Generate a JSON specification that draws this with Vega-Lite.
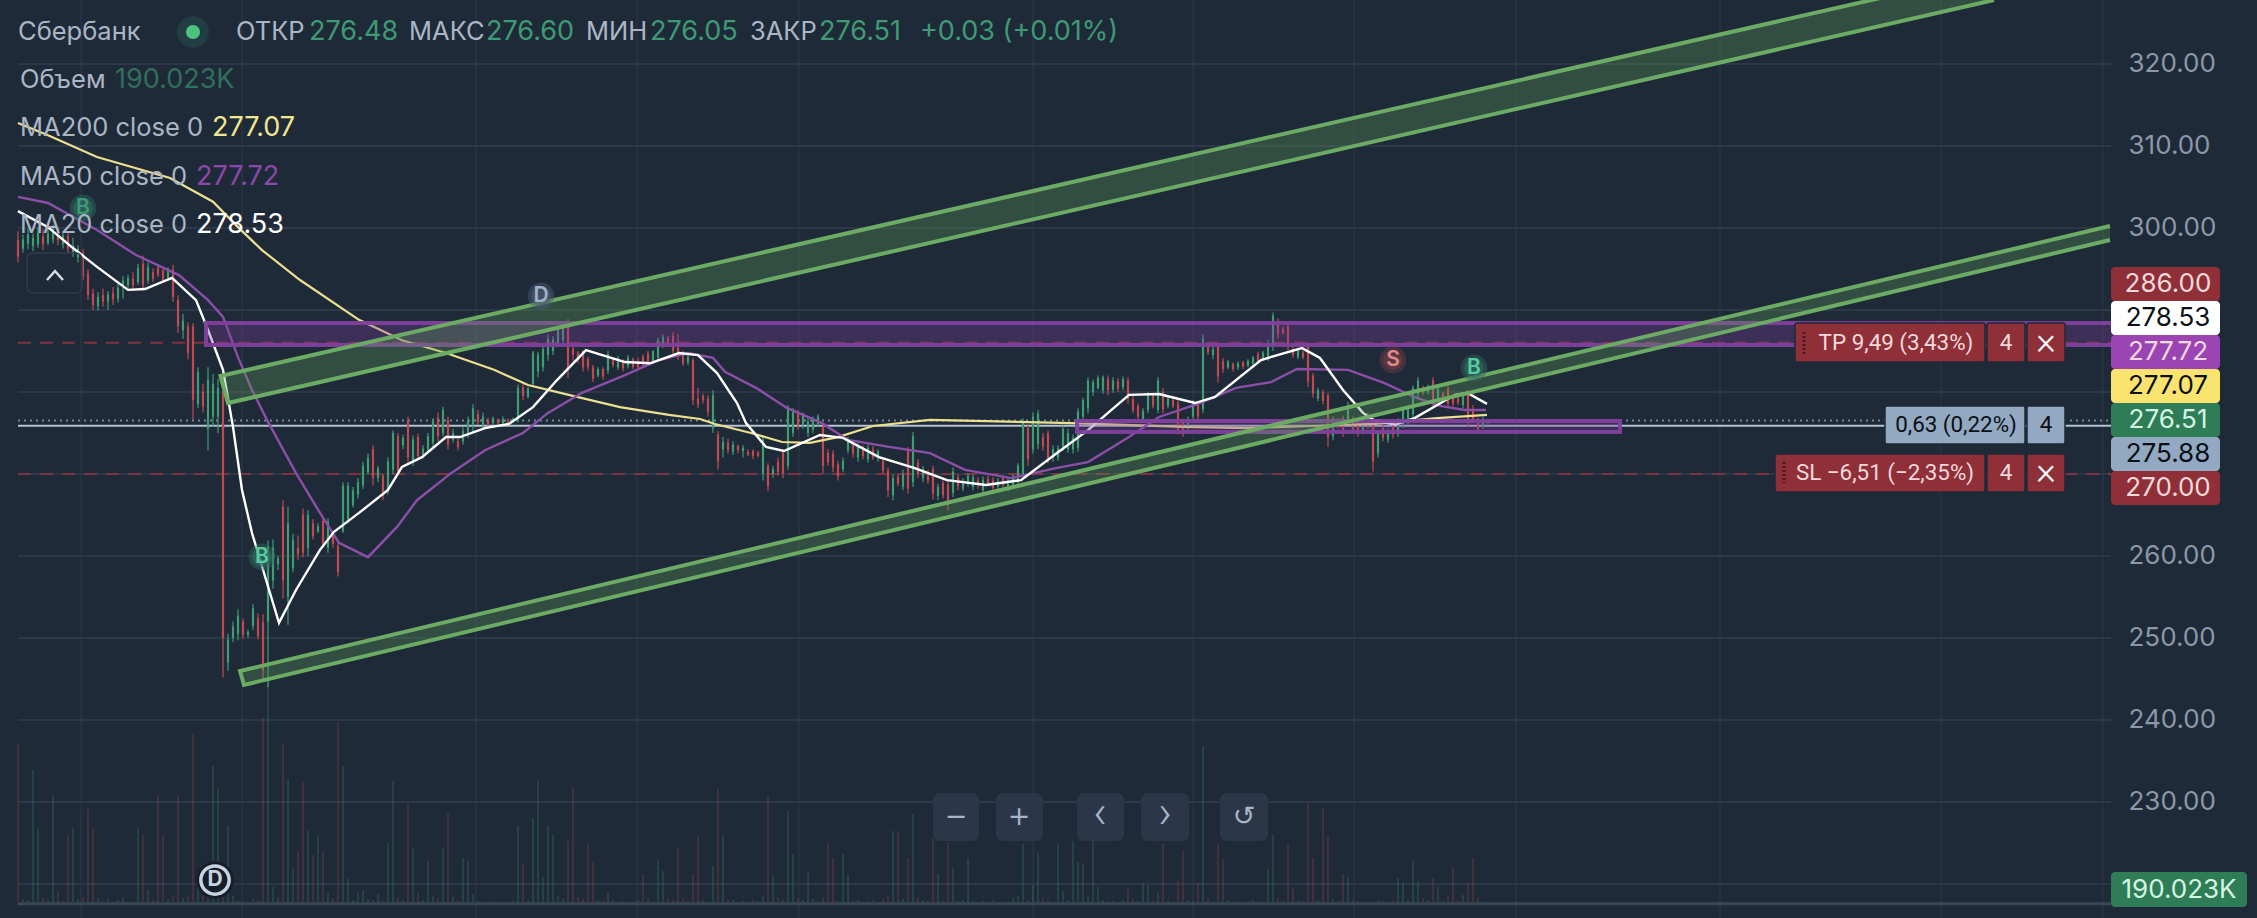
{"$schema":"https://vega.github.io/schema/vega-lite/v6.json","width":2257,"height":918,"padding":0,"autosize":{"type":"none"},"background":"#1f2a38","view":{"stroke":null},
"datasets":{
"candles":[
{"t":18,"h":299.6,"l":295.8,"o":298.5,"c":296.5,"v":16200},{"t":23,"h":299.2,"l":297,"o":297.5,"c":298.6,"v":600},{"t":28,"h":299.9,"l":297.4,"o":298.1,"c":299.2,"v":500},{"t":33,"h":299.3,"l":297.2,"o":297.8,"c":298.8,"v":13500},{"t":38,"h":300.1,"l":297.6,"o":298,"c":299.4,"v":7700},{"t":43,"h":299.8,"l":297.3,"o":299,"c":298,"v":700},{"t":48,"h":299.9,"l":297.9,"o":298.2,"c":299.3,"v":500},{"t":53,"h":300.4,"l":298.1,"o":298.6,"c":299.9,"v":11000},{"t":58,"h":300,"l":297.9,"o":299.5,"c":298.5,"v":1400},{"t":63,"h":299.6,"l":297.5,"o":298,"c":299.1,"v":400},
{"t":68,"h":299.4,"l":296.9,"o":299,"c":297.5,"v":7000},{"t":73,"h":298.8,"l":296.5,"o":296.9,"c":297.8,"v":7700},{"t":78,"h":297.9,"l":295.8,"o":296.4,"c":297.5,"v":600},{"t":83,"h":297.4,"l":293.6,"o":297,"c":294.1,"v":800},{"t":88,"h":295,"l":291.2,"o":294.5,"c":291.8,"v":9600},{"t":93,"h":292.6,"l":290,"o":292,"c":290.6,"v":7700},{"t":98,"h":292.2,"l":289.9,"o":290.5,"c":291.6,"v":700},{"t":103,"h":292.6,"l":290.4,"o":291.8,"c":291,"v":400},{"t":108,"h":292.3,"l":290,"o":291,"c":291.9,"v":600},{"t":113,"h":292.8,"l":290.6,"o":292.1,"c":291.3,"v":300},
{"t":118,"h":293.2,"l":290.9,"o":291.4,"c":292.7,"v":500},{"t":123,"h":294.1,"l":291.4,"o":292.9,"c":293.6,"v":700},{"t":128,"h":294.3,"l":292.5,"o":293,"c":293.9,"v":400},{"t":133,"h":294.6,"l":292.3,"o":293.8,"c":293,"v":300},{"t":138,"h":295.6,"l":293.1,"o":293.4,"c":295.1,"v":7700},{"t":143,"h":296.6,"l":292.5,"o":295.6,"c":293,"v":7000},{"t":148,"h":295.8,"l":293.2,"o":293.6,"c":295.2,"v":1500},{"t":153,"h":295.1,"l":293.4,"o":294.6,"c":293.8,"v":500},{"t":158,"h":295.6,"l":294,"o":295.2,"c":294.3,"v":11000},{"t":163,"h":295,"l":293.3,"o":294.8,"c":293.7,"v":7000},
{"t":168,"h":295.2,"l":293.6,"o":293.9,"c":294.9,"v":600},{"t":173,"h":295.5,"l":291,"o":294.9,"c":291.6,"v":900},{"t":178,"h":291.8,"l":287.2,"o":291.2,"c":288,"v":11000},{"t":183,"h":289.5,"l":286.5,"o":287.5,"c":288.7,"v":700},{"t":188,"h":288.5,"l":284,"o":288,"c":284.8,"v":900},{"t":193,"h":288.4,"l":276.6,"o":288,"c":279,"v":17200},{"t":198,"h":283,"l":278,"o":278.5,"c":282.4,"v":1800},{"t":203,"h":281,"l":277.5,"o":280,"c":278.2,"v":900},{"t":208,"h":283,"l":272.9,"o":275.5,"c":281.5,"v":1200},{"t":213,"h":282.2,"l":275.8,"o":277,"c":281,"v":13900},
{"t":218,"h":281.6,"l":275,"o":277,"c":280.5,"v":11600},{"t":223,"h":280.5,"l":245.2,"o":280,"c":250,"v":1500},{"t":228,"h":250.5,"l":246,"o":247,"c":249.8,"v":7900},{"t":233,"h":252,"l":249.5,"o":250,"c":251.4,"v":900},{"t":238,"h":253.5,"l":249.7,"o":250.5,"c":252.7,"v":500},{"t":243,"h":252.4,"l":249.9,"o":252,"c":250.4,"v":400},{"t":248,"h":251,"l":250,"o":250.4,"c":250.7,"v":300},{"t":253,"h":254.1,"l":251,"o":251.5,"c":253.6,"v":600},{"t":258,"h":253,"l":249.8,"o":252.4,"c":250.2,"v":500},{"t":263,"h":252.9,"l":244.8,"o":252,"c":246,"v":18700},
{"t":268,"h":261.9,"l":244,"o":252,"c":261.2,"v":22500},{"t":273,"h":262,"l":256,"o":257,"c":261,"v":1800},{"t":278,"h":260,"l":258.3,"o":259,"c":259.7,"v":800},{"t":283,"h":266.8,"l":254.8,"o":266,"c":257,"v":16100},{"t":288,"h":266,"l":251.6,"o":255,"c":264,"v":12600},{"t":293,"h":262.7,"l":258,"o":258.5,"c":262,"v":3600},{"t":298,"h":262.5,"l":259.5,"o":261,"c":260.2,"v":5400},{"t":303,"h":265.8,"l":259.8,"o":265,"c":260.4,"v":12400},{"t":308,"h":265.6,"l":260,"o":261,"c":265,"v":7400},{"t":313,"h":264.5,"l":262,"o":264,"c":262.4,"v":5000},
{"t":318,"h":264,"l":262.8,"o":263,"c":263.6,"v":7000},{"t":323,"h":264.7,"l":261,"o":264.3,"c":261.5,"v":5300},{"t":328,"h":264.6,"l":260.4,"o":261,"c":264.2,"v":1200},{"t":333,"h":263,"l":261,"o":262.5,"c":261.5,"v":700},{"t":338,"h":261.7,"l":257.5,"o":261.2,"c":258,"v":18300},{"t":343,"h":269,"l":262.8,"o":263,"c":268.6,"v":13900},{"t":348,"h":269,"l":264,"o":264.5,"c":268.6,"v":2600},{"t":353,"h":268.4,"l":265.9,"o":266.2,"c":268,"v":500},{"t":358,"h":269.5,"l":267,"o":267.5,"c":269,"v":1200},{"t":363,"h":271.5,"l":268.2,"o":268.6,"c":271,"v":1500},
{"t":368,"h":272.5,"l":269.9,"o":270.2,"c":272,"v":600},{"t":373,"h":273.5,"l":268.6,"o":273,"c":269.5,"v":500},{"t":378,"h":271,"l":269,"o":269.5,"c":270.7,"v":1100},{"t":383,"h":270,"l":266.8,"o":269.8,"c":267.3,"v":400},{"t":388,"h":272,"l":267.5,"o":268,"c":271.5,"v":6200},{"t":393,"h":275.3,"l":270,"o":270.5,"c":275,"v":12400},{"t":398,"h":275,"l":269.9,"o":274.6,"c":270.4,"v":800},{"t":403,"h":274.8,"l":273,"o":273.5,"c":274.4,"v":500},{"t":408,"h":277,"l":271.4,"o":276.5,"c":272,"v":10100},{"t":413,"h":274.7,"l":271,"o":271.5,"c":274.2,"v":5700},
{"t":418,"h":274.9,"l":271.7,"o":274.5,"c":272.2,"v":1200},{"t":423,"h":273.5,"l":271.9,"o":272.3,"c":273.1,"v":500},{"t":428,"h":275,"l":272.7,"o":273,"c":274.6,"v":4400},{"t":433,"h":276.8,"l":273.3,"o":273.8,"c":276.4,"v":900},{"t":438,"h":277.5,"l":274,"o":276.9,"c":274.6,"v":700},{"t":443,"h":278.2,"l":274.6,"o":275,"c":277.8,"v":5700},{"t":448,"h":277,"l":273,"o":276.6,"c":273.6,"v":9200},{"t":453,"h":275.5,"l":273.8,"o":274.2,"c":275,"v":800},{"t":458,"h":274.6,"l":272.9,"o":274,"c":273.3,"v":500},{"t":463,"h":275.7,"l":273.6,"o":274,"c":275.2,"v":4700},
{"t":468,"h":277,"l":274.4,"o":275,"c":276.5,"v":4400},{"t":473,"h":278.5,"l":275,"o":276,"c":278,"v":1100},{"t":478,"h":277.8,"l":276,"o":277.3,"c":276.3,"v":400},{"t":483,"h":277.5,"l":275.4,"o":276,"c":277,"v":300},{"t":488,"h":276.9,"l":275.7,"o":276.6,"c":276,"v":300},{"t":493,"h":277,"l":276,"o":276.2,"c":276.8,"v":400},{"t":498,"h":276.8,"l":276,"o":276.6,"c":276.2,"v":300},{"t":503,"h":277,"l":275.9,"o":276.2,"c":276.7,"v":300},{"t":508,"h":276.8,"l":275.9,"o":276.5,"c":276.1,"v":300},{"t":513,"h":276.9,"l":276.2,"o":276.4,"c":276.7,"v":400},
{"t":518,"h":280.9,"l":276.3,"o":276.6,"c":280.5,"v":7900},{"t":523,"h":281,"l":279,"o":280.6,"c":279.5,"v":4100},{"t":528,"h":280.6,"l":279.2,"o":279.4,"c":280.4,"v":500},{"t":533,"h":285,"l":280.6,"o":281,"c":284.8,"v":8700},{"t":538,"h":284.9,"l":281.8,"o":282.5,"c":284.6,"v":12400},{"t":543,"h":285.5,"l":282.5,"o":283,"c":285.2,"v":2800},{"t":548,"h":287,"l":283.8,"o":284.5,"c":286.5,"v":7900},{"t":553,"h":286.8,"l":284.5,"o":285,"c":286.4,"v":7000},{"t":558,"h":287.9,"l":285.5,"o":286,"c":287.6,"v":900},{"t":563,"h":288.4,"l":285.8,"o":286.3,"c":288,"v":700},
{"t":568,"h":288.9,"l":281.7,"o":288.4,"c":282.8,"v":6400},{"t":573,"h":285.7,"l":283.8,"o":285.3,"c":284.5,"v":11700},{"t":578,"h":285,"l":283.5,"o":284.8,"c":283.9,"v":800},{"t":583,"h":285.1,"l":282.5,"o":285,"c":283,"v":600},{"t":588,"h":284.3,"l":282.6,"o":284,"c":283,"v":6100},{"t":593,"h":283.3,"l":281.2,"o":283,"c":281.6,"v":4400},{"t":598,"h":283,"l":281.8,"o":282,"c":282.8,"v":500},{"t":603,"h":283,"l":281.5,"o":282.8,"c":281.9,"v":400},{"t":608,"h":285,"l":282.2,"o":282.6,"c":284.6,"v":1300},{"t":613,"h":284.2,"l":283,"o":284,"c":283.3,"v":500},
{"t":618,"h":284.4,"l":282.7,"o":283,"c":284.1,"v":300},{"t":623,"h":284,"l":282.5,"o":283.8,"c":282.9,"v":400},{"t":628,"h":284.5,"l":282.9,"o":283.2,"c":284.2,"v":300},{"t":633,"h":284.2,"l":282.8,"o":284,"c":283,"v":300},{"t":638,"h":284.2,"l":282.6,"o":283.8,"c":283,"v":500},{"t":643,"h":284.6,"l":283,"o":284.3,"c":283.4,"v":3100},{"t":648,"h":285,"l":283.2,"o":284.7,"c":283.6,"v":700},{"t":653,"h":285.1,"l":283.5,"o":283.8,"c":285,"v":400},{"t":658,"h":286.6,"l":283.9,"o":284.2,"c":286.3,"v":4600},{"t":663,"h":287,"l":285.4,"o":285.7,"c":286.7,"v":3400},
{"t":668,"h":286.9,"l":285.5,"o":286.6,"c":285.8,"v":600},{"t":673,"h":287.3,"l":284.2,"o":286.9,"c":285,"v":500},{"t":678,"h":287.1,"l":283.9,"o":285.4,"c":284.5,"v":5600},{"t":683,"h":285,"l":283.2,"o":284.6,"c":283.5,"v":700},{"t":688,"h":284.6,"l":283.3,"o":283.6,"c":284.3,"v":400},{"t":693,"h":284.1,"l":278.4,"o":283.9,"c":279,"v":3100},{"t":698,"h":280.5,"l":278,"o":279.2,"c":278.5,"v":6900},{"t":703,"h":279.8,"l":278.6,"o":279.5,"c":279,"v":500},{"t":708,"h":279.6,"l":277,"o":279.2,"c":277.6,"v":300},{"t":713,"h":280.2,"l":275,"o":275.6,"c":279.6,"v":3900},
{"t":718,"h":275.2,"l":270.5,"o":274.8,"c":271.5,"v":11600},{"t":723,"h":274.5,"l":272,"o":273,"c":273.9,"v":7000},{"t":728,"h":274.3,"l":272.5,"o":273.8,"c":272.9,"v":600},{"t":733,"h":274,"l":272.3,"o":272.7,"c":273.6,"v":500},{"t":738,"h":273.6,"l":272.5,"o":273.4,"c":272.9,"v":300},{"t":743,"h":273.5,"l":272,"o":272.8,"c":273.2,"v":400},{"t":748,"h":273,"l":272.2,"o":272.7,"c":272.4,"v":300},{"t":753,"h":273,"l":271.8,"o":272.8,"c":272.2,"v":500},{"t":758,"h":272.8,"l":272,"o":272.6,"c":272.2,"v":400},{"t":763,"h":274.7,"l":269.2,"o":270,"c":274.2,"v":900},
{"t":768,"h":271.3,"l":267.9,"o":271,"c":268.5,"v":10900},{"t":773,"h":271,"l":269.5,"o":270,"c":270.6,"v":3000},{"t":778,"h":272,"l":269.8,"o":271.5,"c":270.2,"v":700},{"t":783,"h":273,"l":269.5,"o":272.6,"c":270,"v":500},{"t":788,"h":278.4,"l":270.5,"o":271,"c":278,"v":9400},{"t":793,"h":278,"l":274.5,"o":275,"c":277.6,"v":5100},{"t":798,"h":277.8,"l":275.4,"o":277.4,"c":275.9,"v":700},{"t":803,"h":277.5,"l":275.5,"o":276,"c":277.1,"v":500},{"t":808,"h":276.8,"l":274.5,"o":275,"c":276.4,"v":3400},{"t":813,"h":277,"l":275,"o":275.4,"c":276.6,"v":600},
{"t":818,"h":277.3,"l":275.8,"o":276.1,"c":277,"v":400},{"t":823,"h":276.2,"l":270.1,"o":275.8,"c":271,"v":700},{"t":828,"h":273,"l":271,"o":272.6,"c":271.4,"v":6200},{"t":833,"h":272.9,"l":270.2,"o":272.5,"c":270.8,"v":4700},{"t":838,"h":271.6,"l":269.2,"o":271.2,"c":269.7,"v":400},{"t":843,"h":272,"l":270.2,"o":270.6,"c":271.6,"v":5100},{"t":848,"h":274.5,"l":272.5,"o":272.9,"c":274.2,"v":3000},{"t":853,"h":274,"l":272,"o":273.6,"c":272.5,"v":400},{"t":858,"h":273.7,"l":271.5,"o":272,"c":273.3,"v":500},{"t":863,"h":273.5,"l":271.8,"o":273.2,"c":272.2,"v":300},
{"t":868,"h":273.6,"l":271.4,"o":271.8,"c":273.2,"v":400},{"t":873,"h":273.4,"l":271.7,"o":273,"c":272,"v":500},{"t":878,"h":273,"l":271.5,"o":272,"c":272.8,"v":300},{"t":883,"h":272,"l":270,"o":271.6,"c":270.4,"v":700},{"t":888,"h":270.8,"l":267.2,"o":270.4,"c":268,"v":900},{"t":893,"h":270,"l":266.8,"o":267.4,"c":269.5,"v":7400},{"t":898,"h":270,"l":268.5,"o":269.7,"c":268.8,"v":7200},{"t":903,"h":270.5,"l":268,"o":268.4,"c":270,"v":600},{"t":908,"h":273.3,"l":267.6,"o":272.9,"c":268.2,"v":4700},{"t":913,"h":275.1,"l":268.4,"o":269,"c":274.6,"v":9100},
{"t":918,"h":271.8,"l":269.5,"o":271.4,"c":270,"v":800},{"t":923,"h":271,"l":269,"o":269.5,"c":270.6,"v":500},{"t":928,"h":270.5,"l":268.8,"o":270.2,"c":269.2,"v":400},{"t":933,"h":271,"l":266.9,"o":270.6,"c":267.6,"v":6700},{"t":938,"h":268.8,"l":266.8,"o":267.3,"c":268.4,"v":3100},{"t":943,"h":269.2,"l":267,"o":268.9,"c":267.4,"v":500},{"t":948,"h":269.2,"l":265.6,"o":268.7,"c":266.2,"v":6200},{"t":953,"h":270.8,"l":267.2,"o":267.7,"c":270.3,"v":3700},{"t":958,"h":270,"l":268,"o":269.6,"c":268.5,"v":400},{"t":963,"h":269.5,"l":267.9,"o":268.2,"c":269.1,"v":500},
{"t":968,"h":270.1,"l":268.4,"o":268.9,"c":269.8,"v":4700},{"t":973,"h":269.9,"l":268,"o":268.4,"c":269.6,"v":400},{"t":978,"h":269.6,"l":268.2,"o":269.2,"c":268.6,"v":300},{"t":983,"h":269.7,"l":267.6,"o":268,"c":269.3,"v":400},{"t":988,"h":269.8,"l":268.5,"o":269.4,"c":268.9,"v":300},{"t":993,"h":269.6,"l":268,"o":269.2,"c":268.3,"v":500},{"t":998,"h":269.5,"l":268.2,"o":268.5,"c":269.1,"v":300},{"t":1003,"h":269.8,"l":268.4,"o":269.5,"c":268.7,"v":300},{"t":1008,"h":269.4,"l":267.9,"o":268.2,"c":269.2,"v":400},{"t":1013,"h":270,"l":268.3,"o":268.7,"c":269.7,"v":700},
{"t":1018,"h":271.3,"l":268.6,"o":269,"c":271,"v":900},{"t":1023,"h":276.8,"l":269.5,"o":270,"c":276.3,"v":6100},{"t":1028,"h":276,"l":271,"o":275.6,"c":271.8,"v":500},{"t":1033,"h":277.5,"l":272.5,"o":273,"c":277,"v":2000},{"t":1038,"h":277.8,"l":273,"o":273.6,"c":277.4,"v":5200},{"t":1043,"h":275,"l":272.8,"o":274.5,"c":273.3,"v":800},{"t":1048,"h":275.3,"l":271.3,"o":275,"c":272,"v":500},{"t":1053,"h":273.5,"l":271.5,"o":272,"c":273,"v":300},{"t":1058,"h":273.5,"l":271.6,"o":272,"c":273.1,"v":6100},{"t":1063,"h":275.9,"l":272.8,"o":273.2,"c":275.5,"v":1400},
{"t":1068,"h":275.5,"l":272.6,"o":273,"c":275,"v":500},{"t":1073,"h":274.8,"l":272.5,"o":273,"c":274.4,"v":6400},{"t":1078,"h":278,"l":272.7,"o":273.2,"c":277.6,"v":4300},{"t":1083,"h":279.3,"l":276.6,"o":277,"c":279,"v":4100},{"t":1088,"h":281.8,"l":277.4,"o":278,"c":281.4,"v":1000},{"t":1093,"h":281.5,"l":279.5,"o":280,"c":281.2,"v":6400},{"t":1098,"h":282,"l":280.3,"o":280.5,"c":281.7,"v":1800},{"t":1103,"h":282,"l":279.8,"o":280.2,"c":281.8,"v":500},{"t":1108,"h":282,"l":279.6,"o":281.6,"c":280.2,"v":400},{"t":1113,"h":281.8,"l":279.9,"o":280.3,"c":281.4,"v":400},
{"t":1118,"h":281.7,"l":280,"o":281.3,"c":280.4,"v":300},{"t":1123,"h":281.9,"l":280.2,"o":280.6,"c":281.6,"v":500},{"t":1128,"h":281.8,"l":278.6,"o":281.4,"c":279.2,"v":1600},{"t":1133,"h":279.5,"l":277.4,"o":279.1,"c":277.8,"v":700},{"t":1138,"h":278.6,"l":276.6,"o":278.3,"c":277,"v":400},{"t":1143,"h":278,"l":276.3,"o":276.7,"c":277.7,"v":2200},{"t":1148,"h":280,"l":277.4,"o":277.8,"c":279.6,"v":2000},{"t":1153,"h":279.9,"l":278,"o":279.5,"c":278.3,"v":400},{"t":1158,"h":281.8,"l":277.4,"o":277.8,"c":281.4,"v":1200},{"t":1163,"h":280.5,"l":277.4,"o":280,"c":277.9,"v":6100},
{"t":1168,"h":279.5,"l":278,"o":278.3,"c":279.2,"v":500},{"t":1173,"h":279.3,"l":278,"o":279,"c":278.3,"v":300},{"t":1178,"h":279,"l":274.8,"o":278.6,"c":275.4,"v":2400},{"t":1183,"h":276.6,"l":274.5,"o":276.2,"c":275,"v":5400},{"t":1188,"h":277,"l":275.2,"o":275.6,"c":276.6,"v":500},{"t":1193,"h":279,"l":276.5,"o":277,"c":278.8,"v":400},{"t":1198,"h":278.9,"l":276.6,"o":278.5,"c":277,"v":2200},{"t":1203,"h":287,"l":277.4,"o":277.9,"c":286.5,"v":15900},{"t":1208,"h":286,"l":284.5,"o":285.7,"c":284.9,"v":700},{"t":1213,"h":285.5,"l":284,"o":284.5,"c":285.2,"v":400},
{"t":1218,"h":285.9,"l":281.1,"o":285.5,"c":281.9,"v":6100},{"t":1223,"h":284.1,"l":282.3,"o":283.8,"c":282.8,"v":4600},{"t":1228,"h":283.9,"l":282.8,"o":283,"c":283.7,"v":500},{"t":1233,"h":283.6,"l":282.5,"o":283.4,"c":282.8,"v":300},{"t":1238,"h":283.7,"l":282.7,"o":283,"c":283.5,"v":400},{"t":1243,"h":283.8,"l":282.8,"o":283.6,"c":283.1,"v":300},{"t":1248,"h":284,"l":283,"o":283.2,"c":283.8,"v":300},{"t":1253,"h":284.4,"l":283.2,"o":283.5,"c":284.2,"v":500},{"t":1258,"h":284.9,"l":283.4,"o":284.6,"c":283.7,"v":400},{"t":1263,"h":285,"l":283.8,"o":284,"c":284.8,"v":300},
{"t":1268,"h":286.3,"l":283.8,"o":284.2,"c":286,"v":3600},{"t":1273,"h":289.7,"l":285,"o":285.5,"c":289.3,"v":7000},{"t":1278,"h":289,"l":286.5,"o":288.6,"c":287,"v":700},{"t":1283,"h":288,"l":287,"o":287.7,"c":287.2,"v":400},{"t":1288,"h":288.4,"l":285.1,"o":288,"c":285.6,"v":6100},{"t":1293,"h":285.5,"l":284.2,"o":285.2,"c":284.5,"v":1800},{"t":1298,"h":285.2,"l":284,"o":284.3,"c":285,"v":500},{"t":1303,"h":285,"l":284,"o":284.8,"c":284.2,"v":400},{"t":1308,"h":286,"l":280.6,"o":285.7,"c":281.3,"v":10200},{"t":1313,"h":282.3,"l":279.3,"o":282,"c":279.8,"v":4700},
{"t":1318,"h":280.5,"l":278.9,"o":279.2,"c":280.2,"v":500},{"t":1323,"h":280.3,"l":278.5,"o":280,"c":278.9,"v":9700},{"t":1328,"h":279.9,"l":273.3,"o":279.6,"c":274.5,"v":7000},{"t":1333,"h":277,"l":274.1,"o":274.6,"c":276.6,"v":600},{"t":1338,"h":276.8,"l":275.5,"o":276.4,"c":275.8,"v":400},{"t":1343,"h":277.1,"l":274.5,"o":276.8,"c":275,"v":3100},{"t":1348,"h":278.8,"l":276.2,"o":276.6,"c":278.4,"v":2800},{"t":1353,"h":277,"l":275,"o":276.6,"c":275.4,"v":500},{"t":1358,"h":276.8,"l":274.5,"o":276.4,"c":275,"v":400},{"t":1363,"h":276.6,"l":274.8,"o":275.2,"c":276.2,"v":300},
{"t":1368,"h":277.5,"l":275.5,"o":277.2,"c":276,"v":400},{"t":1373,"h":277,"l":270.3,"o":276.7,"c":271.5,"v":300},{"t":1378,"h":275.3,"l":272,"o":272.5,"c":275,"v":500},{"t":1383,"h":276,"l":274,"o":275.6,"c":274.4,"v":400},{"t":1388,"h":275.5,"l":273.8,"o":274.2,"c":275.2,"v":300},{"t":1393,"h":276.5,"l":274.3,"o":276,"c":274.8,"v":500},{"t":1398,"h":276.8,"l":274.5,"o":275,"c":276.5,"v":2700},{"t":1403,"h":278.2,"l":275.6,"o":276,"c":277.9,"v":2300},{"t":1408,"h":278.2,"l":276,"o":276.5,"c":277.9,"v":500},{"t":1413,"h":280.8,"l":276.9,"o":277.3,"c":280.5,"v":4400},
{"t":1418,"h":281.8,"l":279.4,"o":279.8,"c":281.4,"v":2400},{"t":1423,"h":280.8,"l":279.6,"o":280.5,"c":279.9,"v":700},{"t":1428,"h":280.9,"l":279.7,"o":280,"c":280.6,"v":500},{"t":1433,"h":281.8,"l":278,"o":281.4,"c":278.6,"v":2700},{"t":1438,"h":280.8,"l":278.4,"o":279,"c":280.4,"v":1800},{"t":1443,"h":280,"l":279,"o":279.8,"c":279.3,"v":400},{"t":1448,"h":280.8,"l":278,"o":280.4,"c":278.6,"v":900},{"t":1453,"h":279.6,"l":278.2,"o":279.3,"c":278.6,"v":3700},{"t":1458,"h":279.5,"l":278.4,"o":279.2,"c":278.7,"v":500},{"t":1463,"h":279.8,"l":278,"o":278.4,"c":279.5,"v":1000},
{"t":1468,"h":280.2,"l":275.8,"o":279.8,"c":276.6,"v":2200},{"t":1473,"h":278.4,"l":276.2,"o":277.8,"c":276.5,"v":4700},{"t":1478,"h":276.9,"l":275,"o":276.5,"c":275.4,"v":800},{"t":1483,"h":277,"l":275.5,"o":275.8,"c":276.7,"v":300},{"t":1488,"h":276.6,"l":276.05,"o":276.48,"c":276.51,"v":190}],
"ma200":[{"t":18,"p":312.8},{"t":48,"p":311.3},{"t":97,"p":308.65},{"t":170,"p":306.1},{"t":213,"p":303.2},{"t":238,"p":300.1},{"t":262,"p":297.3},{"t":300,"p":293.65},{"t":359,"p":288.8},{"t":402,"p":286.3},{"t":446,"p":284.75},{"t":494,"p":282.7},{"t":528,"p":280.85},{"t":577,"p":279.4},{"t":620,"p":278.15},{"t":669,"p":277.2},{"t":700,"p":276.7},{"t":715,"p":276.1},{"t":751,"p":275},{"t":782,"p":273.9},{"t":810,"p":273.8},{"t":838,"p":274.5},{"t":873,"p":275.85},{"t":930,"p":276.6},{"t":986,"p":276.45},{"t":1072,"p":276.2},{"t":1184,"p":275.75},{"t":1246,"p":275.6},{"t":1312,"p":275.85},{"t":1375,"p":276.1},{"t":1437,"p":276.8},{"t":1487,"p":277.2}],
"ma50":[{"t":18,"p":303.8},{"t":48,"p":303.05},{"t":97,"p":299.75},{"t":136,"p":296.7},{"t":179,"p":294.25},{"t":208,"p":291.2},{"t":223,"p":289.15},{"t":238,"p":284.25},{"t":252,"p":280.25},{"t":267,"p":276.6},{"t":296,"p":270.1},{"t":320,"p":265.25},{"t":339,"p":261.6},{"t":368,"p":259.85},{"t":397,"p":263.55},{"t":417,"p":266.8},{"t":451,"p":270.1},{"t":485,"p":272.9},{"t":523,"p":275},{"t":548,"p":277.45},{"t":582,"p":279.9},{"t":625,"p":282.05},{"t":659,"p":283.9},{"t":688,"p":284.75},{"t":713,"p":284.15},{"t":725,"p":282.45},{"t":756,"p":280.5},{"t":787,"p":278.05},{"t":822,"p":276.2},{"t":848,"p":274.15},{"t":889,"p":273.3},{"t":930,"p":272.55},{"t":965,"p":270.5},{"t":1011,"p":269.5},{"t":1057,"p":270.75},{"t":1088,"p":271.45},{"t":1129,"p":274.5},{"t":1159,"p":276.95},{"t":1200,"p":278.65},{"t":1236,"p":280.5},{"t":1271,"p":281.2},{"t":1297,"p":282.8},{"t":1348,"p":282.7},{"t":1384,"p":281.1},{"t":1414,"p":279.4},{"t":1440,"p":278.3},{"t":1465,"p":277.8},{"t":1486,"p":277.8}],
"ma20":[{"t":18,"p":302.05},{"t":48,"p":300.1},{"t":73,"p":297.55},{"t":97,"p":295.25},{"t":128,"p":292.45},{"t":145,"p":292.55},{"t":172,"p":293.9},{"t":196,"p":291.2},{"t":208,"p":287.55},{"t":223,"p":282.7},{"t":233,"p":275.75},{"t":242,"p":268.05},{"t":252,"p":262.8},{"t":267,"p":256.7},{"t":279,"p":251.85},{"t":296,"p":255.85},{"t":320,"p":260.75},{"t":334,"p":262.95},{"t":359,"p":265.25},{"t":388,"p":268.05},{"t":402,"p":270.85},{"t":422,"p":272.05},{"t":446,"p":274.5},{"t":460,"p":274.5},{"t":485,"p":275.6},{"t":509,"p":276.1},{"t":533,"p":278.15},{"t":557,"p":281.45},{"t":586,"p":285.1},{"t":625,"p":283.65},{"t":650,"p":283.5},{"t":679,"p":284.75},{"t":698,"p":284.5},{"t":717,"p":282.3},{"t":737,"p":278.65},{"t":746,"p":276.2},{"t":766,"p":273.3},{"t":784,"p":272.8},{"t":820,"p":274.75},{"t":843,"p":274.4},{"t":879,"p":272.05},{"t":914,"p":270.75},{"t":947,"p":269.25},{"t":986,"p":268.65},{"t":1021,"p":269.25},{"t":1057,"p":272.55},{"t":1088,"p":275.35},{"t":1108,"p":277.45},{"t":1129,"p":279.65},{"t":1159,"p":279.75},{"t":1195,"p":278.65},{"t":1215,"p":279.4},{"t":1261,"p":283.9},{"t":1302,"p":285.35},{"t":1320,"p":284.15},{"t":1343,"p":280.25},{"t":1363,"p":277.45},{"t":1373,"p":276.6},{"t":1395,"p":276},{"t":1415,"p":276.85},{"t":1455,"p":279.65},{"t":1467,"p":279.9},{"t":1487,"p":278.55}],
"channelFill":[{"t":220.5,"p":281.95,"p2":281.95,"id":"upper"},{"t":228,"p":282.15,"p2":278.65,"id":"upper"},{"t":1994,"p":331.2,"p2":327.8,"id":"upper"},{"t":240,"p":245.97,"p2":245.97,"id":"lower"},{"t":244,"p":246.1,"p2":244.27,"id":"lower"},{"t":2110,"p":300.24,"p2":298.53,"id":"lower"}],
"channelEdge":[{"t":1994,"p":331.2,"id":"upper","o":1},{"t":220.5,"p":281.95,"id":"upper","o":2},{"t":228,"p":278.65,"id":"upper","o":3},{"t":1994,"p":327.8,"id":"upper","o":4},{"t":2110,"p":300.24,"id":"lower","o":1},{"t":240,"p":245.97,"id":"lower","o":2},{"t":244,"p":244.27,"id":"lower","o":3},{"t":2110,"p":298.53,"id":"lower","o":4}],
"bands":[{"t":206,"t2":2116,"p":288.41,"p2":285.73},{"t":1077,"t2":1620,"p":276.46,"p2":275.12}],
"hgrid":[{"p":320,"t":18,"t2":2111},{"p":310,"t":18,"t2":2111},{"p":300,"t":18,"t2":2111},{"p":290,"t":18,"t2":2111},{"p":280,"t":18,"t2":2111},{"p":270,"t":18,"t2":2111},{"p":260,"t":18,"t2":2111},{"p":250,"t":18,"t2":2111},{"p":240,"t":18,"t2":2111},{"p":230,"t":18,"t2":2111},{"p":220,"t":18,"t2":2111}],
"vgrid":[{"t":81},{"t":242},{"t":476},{"t":637},{"t":799},{"t":1033},{"t":1193},{"t":1354},{"t":1516},{"t":1720},{"t":1941},{"t":2103}],
"frame":[{"t":2111}],
"base":[{"p":217.6,"t":18,"t2":2111}],
"dashed":[{"p":286,"t":18,"t2":2111},{"p":270,"t":18,"t2":2111}],
"dotted":[{"p":276.51,"t":18,"t2":2111}],
"position":[{"p":275.88,"t":18,"t2":2111}],
"priceTags":[{"t":2111,"t2":2220,"p":295.24,"p2":291.09,"kind":"tagRed"},{"t":2111,"t2":2220,"p":291.09,"p2":286.95,"kind":"tagWhite"},{"t":2111,"t2":2220,"p":286.95,"p2":282.8,"kind":"tagPurple"},{"t":2111,"t2":2220,"p":282.8,"p2":278.65,"kind":"tagYellow"},{"t":2111,"t2":2220,"p":278.65,"p2":274.51,"kind":"tagGreen"},{"t":2111,"t2":2220,"p":274.51,"p2":270.36,"kind":"tagSlate"},{"t":2111,"t2":2220,"p":270.36,"p2":266.21,"kind":"tagRed"},{"t":2111,"t2":2247,"p":221.46,"p2":217.19,"kind":"tagGreen"}],
"priceText":[{"t":2168,"p":293.17,"txt":"286.00","kind":"inkPink"},{"t":2168,"p":289.02,"txt":"278.53","kind":"inkDark"},{"t":2168,"p":284.88,"txt":"277.72","kind":"inkPink"},{"t":2168,"p":280.73,"txt":"277.07","kind":"inkDark"},{"t":2168,"p":276.58,"txt":"276.51","kind":"inkMint"},{"t":2168,"p":272.43,"txt":"275.88","kind":"inkDark"},{"t":2168,"p":268.29,"txt":"270.00","kind":"inkPink"},{"t":2179,"p":219.32,"txt":"190.023K","kind":"inkMint"}],
"orderTags":[{"t":1795,"t2":1985,"p":288.41,"p2":283.65,"kind":"tagRed"},{"t":1987,"t2":2025,"p":288.41,"p2":283.65,"kind":"tagRed"},{"t":2027,"t2":2065,"p":288.41,"p2":283.65,"kind":"tagRed"},{"t":1885,"t2":2025,"p":278.29,"p2":273.65,"kind":"tagSlate"},{"t":2027,"t2":2065,"p":278.29,"p2":273.65,"kind":"tagSlate"},{"t":1775,"t2":1985,"p":272.43,"p2":267.8,"kind":"tagRed"},{"t":1987,"t2":2025,"p":272.43,"p2":267.8,"kind":"tagRed"},{"t":2027,"t2":2065,"p":272.43,"p2":267.8,"kind":"tagRed"}],
"orderText":[{"t":1896,"p":286,"txt":"TP 9,49 (3,43%)","kind":"inkPink"},{"t":2006,"p":286,"txt":"4","kind":"inkPink"},{"t":1956,"p":275.95,"txt":"0,63 (0,22%)","kind":"inkDark"},{"t":2046,"p":275.95,"txt":"4","kind":"inkDark"},{"t":1885,"p":270.1,"txt":"SL −6,51 (−2,35%)","kind":"inkPink"},{"t":2006,"p":270.1,"txt":"4","kind":"inkPink"}],
"closeX":[{"t":2046,"p":286,"txt":"×"},{"t":2046,"p":270.1,"txt":"×"}],
"handles":[{"t":1804,"p":287.31,"p2":284.63},{"t":1784,"p":271.46,"p2":268.9}],
"headerLabels":[{"t":18,"p":323.9,"txt":"Сбербанк","kind":"label"},{"t":236,"p":323.9,"txt":"ОТКР","kind":"label"},{"t":409,"p":323.9,"txt":"МАКС","kind":"label"},{"t":586,"p":323.9,"txt":"МИН","kind":"label"},{"t":750,"p":323.9,"txt":"ЗАКР","kind":"label"},{"t":20,"p":318.04,"txt":"Объем","kind":"label"},{"t":20,"p":312.19,"txt":"MA200 close 0","kind":"label"},{"t":20,"p":306.2,"txt":"MA50 close 0","kind":"label"},{"t":20,"p":300.36,"txt":"MA20 close 0","kind":"label"}],
"headerValues":[{"t":309,"p":323.9,"txt":"276.48","kind":"gain"},{"t":486,"p":323.9,"txt":"276.60","kind":"gain"},{"t":650,"p":323.9,"txt":"276.05","kind":"gain"},{"t":819,"p":323.9,"txt":"276.51","kind":"gain"},{"t":920,"p":323.9,"txt":"+0.03 (+0.01%)","kind":"gain"},{"t":115,"p":318.04,"txt":"190.023K","kind":"volText"},{"t":212,"p":312.19,"txt":"277.07","kind":"ma200Text"},{"t":196,"p":306.2,"txt":"277.72","kind":"ma50Text"},{"t":196,"p":300.36,"txt":"278.53","kind":"inkWhite"}],
"markers":[{"t":83,"p":302.43,"txt":"B","kind":"markB"},{"t":541,"p":291.7,"txt":"D","kind":"markD"},{"t":262,"p":259.87,"txt":"B","kind":"markB"},{"t":1393,"p":283.9,"txt":"S","kind":"markS"},{"t":1474,"p":282.92,"txt":"B","kind":"markB"}],
"markerText":[{"t":83,"p":302.43,"txt":"B","kind":"gain"},{"t":541,"p":291.7,"txt":"D","kind":"markDText"},{"t":262,"p":259.87,"txt":"B","kind":"markBText"},{"t":1393,"p":283.9,"txt":"S","kind":"markSText"},{"t":1474,"p":282.92,"txt":"B","kind":"markBText"}],
"divBadge":[{"t":215,"p":220.48,"txt":"D"}],
"status":[{"t":193,"p":323.9}],
"collapse":[{"t":27,"t2":82,"p":296.95,"p2":292.07}],
"chevron":[{"t":47,"p":293.65,"o":1},{"t":55,"p":294.75,"o":2},{"t":63,"p":293.65,"o":3}],
"buttons":[{"t":933,"t2":979,"p":231.09,"p2":225.24},{"t":996,"t2":1043,"p":231.09,"p2":225.24},{"t":1077,"t2":1124,"p":231.09,"p2":225.24},{"t":1141,"t2":1189,"p":231.09,"p2":225.24},{"t":1220,"t2":1268,"p":231.09,"p2":225.24}],
"buttonText":[{"t":956,"p":228.17,"txt":"−"},{"t":1019,"p":228.17,"txt":"+"},{"t":1244,"p":228.17,"txt":"↺"}],
"buttonArrows":[{"t":1100,"p":228.17,"txt":"‹"},{"t":1165,"p":228.17,"txt":"›"}]
},
"encoding":{"x":{"field":"t","type":"quantitative","scale":{"domain":[0,2257]},"axis":null}},
"resolve":{"scale":{"y":"independent"}},
"layer":[
{"data":{"name":"vgrid"},"mark":{"type":"rule","color":"#2b3747","strokeWidth":1.2}},
{"data":{"name":"hgrid"},"mark":{"type":"rule","color":"#2c3847","strokeWidth":2},"encoding":{"x2":{"field":"t2"},"y":{"field":"p","type":"quantitative","scale":{"domain":[215.85,327.8]},"axis":{"orient":"right","offset":-146,"values":[320,310,300,260,250,240,230],"format":".2f","grid":false,"ticks":false,"domain":false,"title":null,"labelColor":"#8b98a9","labelFont":"Inter","labelFontSize":26,"labelPadding":17}}}},
{"data":{"name":"candles"},"mark":{"type":"rule","strokeWidth":1.2,"opacity":0.36},"encoding":{"y":{"field":"v","type":"quantitative","scale":{"domain":[-1300,90500]},"axis":null},"y2":{"datum":0},"color":{"condition":{"test":"datum.c>=datum.o","value":"#3f9d72"},"value":"#c04a52"}}},
{"encoding":{"y":{"field":"p","type":"quantitative","scale":{"domain":[215.85,327.8]},"axis":null}},
"layer":[
{"data":{"name":"frame"},"mark":{"type":"rule","color":"#3a4757","strokeWidth":2},"encoding":{"y":{"datum":215.85,"type":"quantitative","scale":{"domain":[215.85,327.8]},"axis":null},"y2":{"datum":327.8}}},
{"data":{"name":"base"},"mark":{"type":"rule","color":"#3a4757","strokeWidth":3},"encoding":{"x2":{"field":"t2"}}},
{"data":{"name":"dashed"},"mark":{"type":"rule","color":"#7f3340","strokeWidth":2,"strokeDash":[13,9]},"encoding":{"x2":{"field":"t2"}}},
{"data":{"name":"dotted"},"mark":{"type":"rule","color":"#6f8a92","strokeWidth":2,"strokeDash":[2,4]},"encoding":{"x2":{"field":"t2"}}},
{"data":{"name":"position"},"mark":{"type":"rule","color":"#b4c2d2","strokeWidth":2},"encoding":{"x2":{"field":"t2"}}},
{"data":{"name":"candles"},"mark":{"type":"rule","strokeWidth":1.2},"encoding":{"y":{"field":"h","type":"quantitative","scale":{"domain":[215.85,327.8]},"axis":null},"y2":{"field":"l"},"color":{"condition":{"test":"datum.c>=datum.o","value":"#3f9d72"},"value":"#c04a52"}}},
{"data":{"name":"candles"},"mark":{"type":"rule","strokeWidth":2.2},"encoding":{"y":{"field":"o","type":"quantitative","scale":{"domain":[215.85,327.8]},"axis":null},"y2":{"field":"c"},"color":{"condition":{"test":"datum.c>=datum.o","value":"#3f9d72"},"value":"#c04a52"}}},
{"data":{"name":"ma200"},"mark":{"type":"line","color":"#ece08e","strokeWidth":2.2,"clip":true}},
{"data":{"name":"ma50"},"mark":{"type":"line","color":"#8c4fa8","strokeWidth":2.4,"clip":true}},
{"data":{"name":"ma20"},"mark":{"type":"line","color":"#ffffff","strokeWidth":2.4,"clip":true}},
{"data":{"name":"bands"},"mark":{"type":"rect","fill":"#7c3f9c","fillOpacity":0.32,"stroke":"#81409e","strokeWidth":4,"strokeOpacity":0.95},"encoding":{"x2":{"field":"t2"},"y2":{"field":"p2"}}},
{"data":{"name":"channelFill"},"mark":{"type":"area","color":"#5f9e58","opacity":0.3,"clip":true},"encoding":{"y2":{"field":"p2"},"detail":{"field":"id"}}},
{"data":{"name":"channelEdge"},"mark":{"type":"line","color":"#6cab63","strokeWidth":4,"clip":true,"strokeJoin":"miter"},"encoding":{"detail":{"field":"id"},"order":{"field":"o"}}},
{"data":{"name":"priceTags"},"mark":{"type":"rect","cornerRadius":4},"encoding":{"x2":{"field":"t2"},"y2":{"field":"p2"},"color":{"field":"kind","type":"nominal","legend":null,"scale":{"domain":["tagRed","tagWhite","tagPurple","tagYellow","tagGreen","tagSlate","inkPink","inkDark","inkMint","inkWhite","label","gain","volText","ma200Text","ma50Text","markB","markS","markD","markBText","markSText","markDText"],"range":["#8f3038","#ffffff","#9b45b5","#fbe36f","#2f7d57","#93a9c1","#f3d8dc","#0b0f16","#d5f5e4","#ffffff","#aab6c6","#3e9a74","#2f705a","#efe68f","#8d47aa","#2f6a5f","#6e3c48","#4c5c70","#55cc9f","#e38a8a","#9fb4c8"]}}}},
{"data":{"name":"orderTags"},"mark":{"type":"rect","cornerRadius":2,"stroke":"#1f2a38","strokeWidth":1.5},"encoding":{"x2":{"field":"t2"},"y2":{"field":"p2"},"color":{"field":"kind","type":"nominal","legend":null,"scale":{"domain":["tagRed","tagWhite","tagPurple","tagYellow","tagGreen","tagSlate","inkPink","inkDark","inkMint","inkWhite","label","gain","volText","ma200Text","ma50Text","markB","markS","markD","markBText","markSText","markDText"],"range":["#8f3038","#ffffff","#9b45b5","#fbe36f","#2f7d57","#93a9c1","#f3d8dc","#0b0f16","#d5f5e4","#ffffff","#aab6c6","#3e9a74","#2f705a","#efe68f","#8d47aa","#2f6a5f","#6e3c48","#4c5c70","#55cc9f","#e38a8a","#9fb4c8"]}}}},
{"data":{"name":"handles"},"mark":{"type":"rule","color":"#451a22","strokeWidth":3,"strokeDash":[2,2]},"encoding":{"y2":{"field":"p2"}}},
{"data":{"name":"orderText"},"mark":{"type":"text","font":"Roboto","fontSize":22.4,"baseline":"middle","align":"center"},"encoding":{"text":{"field":"txt"},"color":{"field":"kind","type":"nominal","legend":null,"scale":{"domain":["tagRed","tagWhite","tagPurple","tagYellow","tagGreen","tagSlate","inkPink","inkDark","inkMint","inkWhite","label","gain","volText","ma200Text","ma50Text","markB","markS","markD","markBText","markSText","markDText"],"range":["#8f3038","#ffffff","#9b45b5","#fbe36f","#2f7d57","#93a9c1","#f3d8dc","#0b0f16","#d5f5e4","#ffffff","#aab6c6","#3e9a74","#2f705a","#efe68f","#8d47aa","#2f6a5f","#6e3c48","#4c5c70","#55cc9f","#e38a8a","#9fb4c8"]}}}},
{"data":{"name":"closeX"},"mark":{"type":"text","font":"Roboto","fontSize":38,"fontWeight":300,"baseline":"middle","align":"center","color":"#ffffff"},"encoding":{"text":{"field":"txt"}}},
{"data":{"name":"priceText"},"mark":{"type":"text","font":"Inter","fontSize":26,"baseline":"middle","align":"center"},"encoding":{"text":{"field":"txt"},"color":{"field":"kind","type":"nominal","legend":null,"scale":{"domain":["tagRed","tagWhite","tagPurple","tagYellow","tagGreen","tagSlate","inkPink","inkDark","inkMint","inkWhite","label","gain","volText","ma200Text","ma50Text","markB","markS","markD","markBText","markSText","markDText"],"range":["#8f3038","#ffffff","#9b45b5","#fbe36f","#2f7d57","#93a9c1","#f3d8dc","#0b0f16","#d5f5e4","#ffffff","#aab6c6","#3e9a74","#2f705a","#efe68f","#8d47aa","#2f6a5f","#6e3c48","#4c5c70","#55cc9f","#e38a8a","#9fb4c8"]}}}},
{"data":{"name":"markers"},"mark":{"type":"circle","size":720,"opacity":0.45},"encoding":{"color":{"field":"kind","type":"nominal","legend":null,"scale":{"domain":["tagRed","tagWhite","tagPurple","tagYellow","tagGreen","tagSlate","inkPink","inkDark","inkMint","inkWhite","label","gain","volText","ma200Text","ma50Text","markB","markS","markD","markBText","markSText","markDText"],"range":["#8f3038","#ffffff","#9b45b5","#fbe36f","#2f7d57","#93a9c1","#f3d8dc","#0b0f16","#d5f5e4","#ffffff","#aab6c6","#3e9a74","#2f705a","#efe68f","#8d47aa","#2f6a5f","#6e3c48","#4c5c70","#55cc9f","#e38a8a","#9fb4c8"]}}}},
{"data":{"name":"markers"},"mark":{"type":"circle","size":400,"opacity":0.6},"encoding":{"color":{"field":"kind","type":"nominal","legend":null,"scale":{"domain":["tagRed","tagWhite","tagPurple","tagYellow","tagGreen","tagSlate","inkPink","inkDark","inkMint","inkWhite","label","gain","volText","ma200Text","ma50Text","markB","markS","markD","markBText","markSText","markDText"],"range":["#8f3038","#ffffff","#9b45b5","#fbe36f","#2f7d57","#93a9c1","#f3d8dc","#0b0f16","#d5f5e4","#ffffff","#aab6c6","#3e9a74","#2f705a","#efe68f","#8d47aa","#2f6a5f","#6e3c48","#4c5c70","#55cc9f","#e38a8a","#9fb4c8"]}}}},
{"data":{"name":"markerText"},"mark":{"type":"text","font":"Inter","fontSize":21,"fontWeight":600,"baseline":"middle","align":"center"},"encoding":{"text":{"field":"txt"},"color":{"field":"kind","type":"nominal","legend":null,"scale":{"domain":["tagRed","tagWhite","tagPurple","tagYellow","tagGreen","tagSlate","inkPink","inkDark","inkMint","inkWhite","label","gain","volText","ma200Text","ma50Text","markB","markS","markD","markBText","markSText","markDText"],"range":["#8f3038","#ffffff","#9b45b5","#fbe36f","#2f7d57","#93a9c1","#f3d8dc","#0b0f16","#d5f5e4","#ffffff","#aab6c6","#3e9a74","#2f705a","#efe68f","#8d47aa","#2f6a5f","#6e3c48","#4c5c70","#55cc9f","#e38a8a","#9fb4c8"]}}}},
{"data":{"name":"divBadge"},"mark":{"type":"circle","size":1400,"fill":"#161e2b","opacity":1}},
{"data":{"name":"divBadge"},"mark":{"type":"circle","size":800,"fill":"#161e2b","stroke":"#c8d2de","strokeWidth":3.5,"opacity":1}},
{"data":{"name":"divBadge"},"mark":{"type":"text","font":"Inter","fontSize":21,"fontWeight":700,"baseline":"middle","align":"center","color":"#c8d2de"},"encoding":{"text":{"field":"txt"}}},
{"data":{"name":"status"},"mark":{"type":"circle","size":1000,"color":"#2f6a5f","opacity":0.3}},
{"data":{"name":"status"},"mark":{"type":"circle","size":200,"color":"#4cc27f","opacity":1}},
{"data":{"name":"collapse"},"mark":{"type":"rect","fillOpacity":0,"stroke":"#2f3c4c","strokeWidth":1.5,"cornerRadius":6},"encoding":{"x2":{"field":"t2"},"y2":{"field":"p2"}}},
{"data":{"name":"chevron"},"mark":{"type":"line","color":"#d5dde6","strokeWidth":2.5},"encoding":{"order":{"field":"o"}}},
{"data":{"name":"buttons"},"mark":{"type":"rect","color":"#2b3748","cornerRadius":7},"encoding":{"x2":{"field":"t2"},"y2":{"field":"p2"}}},
{"data":{"name":"buttonText"},"mark":{"type":"text","font":"DejaVu Sans","fontSize":27,"baseline":"middle","align":"center","color":"#a7b5c6"},"encoding":{"text":{"field":"txt"}}},
{"data":{"name":"buttonArrows"},"mark":{"type":"text","font":"Roboto","fontSize":46,"fontWeight":300,"baseline":"middle","align":"center","dy":-3,"color":"#a7b5c6"},"encoding":{"text":{"field":"txt"}}},
{"data":{"name":"headerLabels"},"mark":{"type":"text","font":"Inter","fontSize":25.5,"baseline":"middle","align":"left"},"encoding":{"text":{"field":"txt"},"color":{"field":"kind","type":"nominal","legend":null,"scale":{"domain":["tagRed","tagWhite","tagPurple","tagYellow","tagGreen","tagSlate","inkPink","inkDark","inkMint","inkWhite","label","gain","volText","ma200Text","ma50Text","markB","markS","markD","markBText","markSText","markDText"],"range":["#8f3038","#ffffff","#9b45b5","#fbe36f","#2f7d57","#93a9c1","#f3d8dc","#0b0f16","#d5f5e4","#ffffff","#aab6c6","#3e9a74","#2f705a","#efe68f","#8d47aa","#2f6a5f","#6e3c48","#4c5c70","#55cc9f","#e38a8a","#9fb4c8"]}}}},
{"data":{"name":"headerValues"},"mark":{"type":"text","font":"Inter","fontSize":27,"baseline":"middle","align":"left"},"encoding":{"text":{"field":"txt"},"color":{"field":"kind","type":"nominal","legend":null,"scale":{"domain":["tagRed","tagWhite","tagPurple","tagYellow","tagGreen","tagSlate","inkPink","inkDark","inkMint","inkWhite","label","gain","volText","ma200Text","ma50Text","markB","markS","markD","markBText","markSText","markDText"],"range":["#8f3038","#ffffff","#9b45b5","#fbe36f","#2f7d57","#93a9c1","#f3d8dc","#0b0f16","#d5f5e4","#ffffff","#aab6c6","#3e9a74","#2f705a","#efe68f","#8d47aa","#2f6a5f","#6e3c48","#4c5c70","#55cc9f","#e38a8a","#9fb4c8"]}}}}
]}
]}
